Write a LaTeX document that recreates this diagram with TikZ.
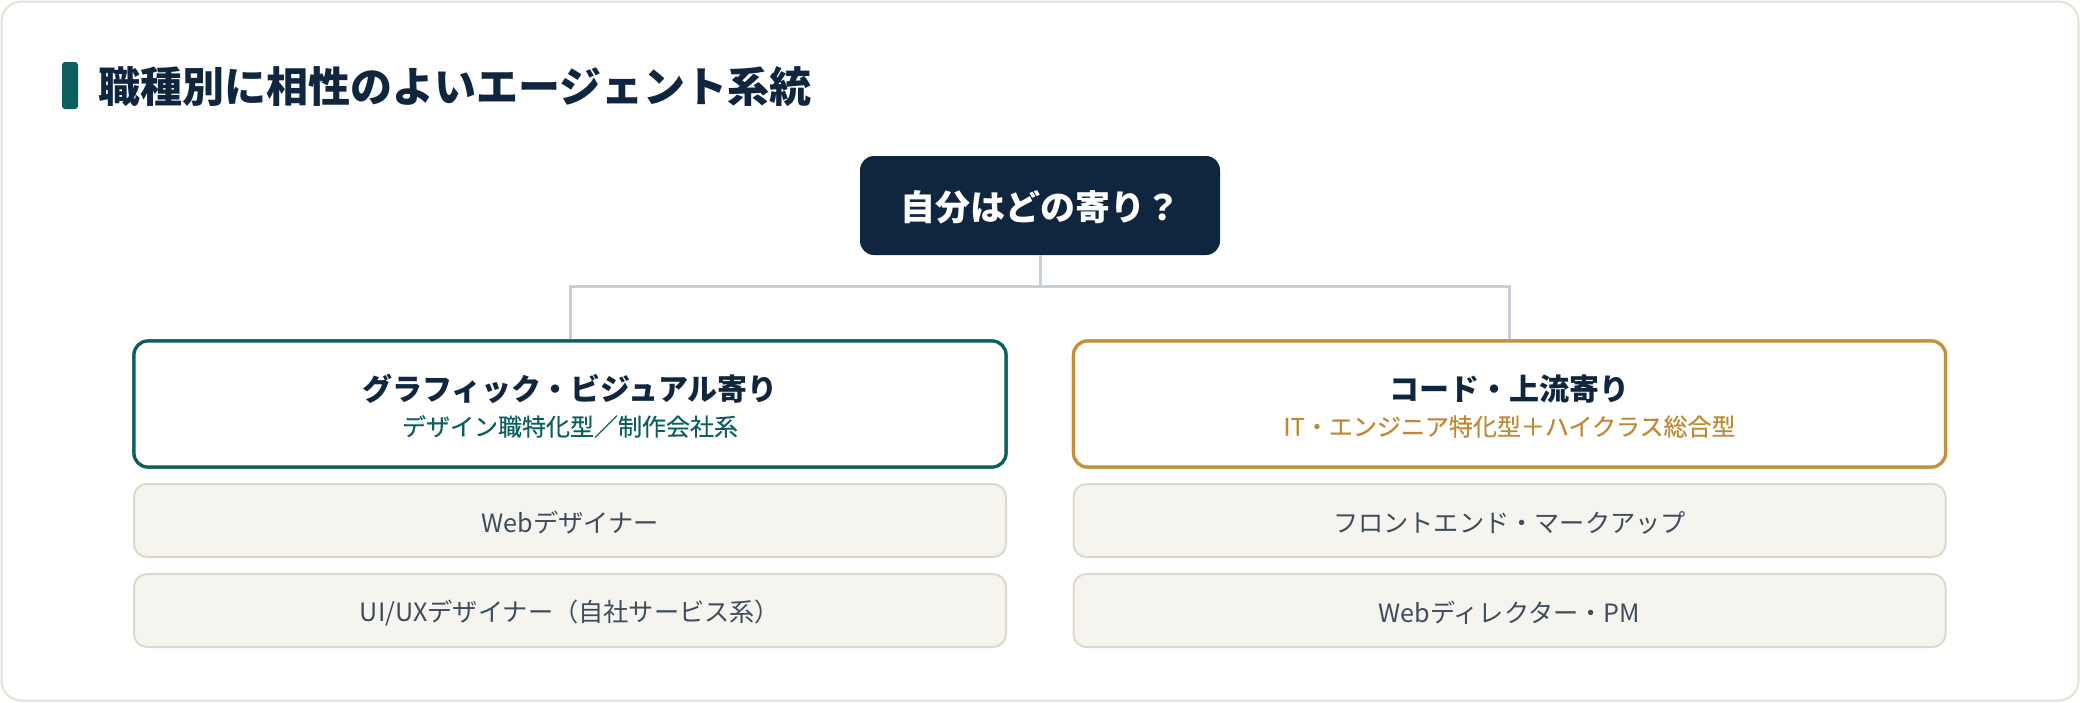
\documentclass[tikz,border=0pt]{standalone}
\usepackage{fontspec}
\setmainfont{Noto Sans CJK JP}
\newfontfamily\medfont[FakeBold=0.3]{Noto Sans CJK JP}
\definecolor{navy}{HTML}{10263F}
\definecolor{teal}{HTML}{0D5F5E}
\definecolor{gold}{HTML}{C4913A}
\definecolor{goldtxt}{HTML}{BC8A35}
\definecolor{itemfill}{HTML}{F6F4EF}
\definecolor{itemline}{HTML}{DDD9CA}
\definecolor{itemtxt}{HTML}{3E4C5C}
\definecolor{outerline}{HTML}{E5E2D5}
\definecolor{connline}{HTML}{C9CFD8}
\tikzset{
  px/.style={x=0.5pt,y=-0.5pt},
  topbox/.style={rectangle, fill=navy, rounded corners=7pt, minimum width=180pt, minimum height=49.5pt, inner sep=0pt},
  headbox/.style={rectangle, draw, fill=white, line width=1.6pt, rounded corners=7pt, minimum width=436pt, minimum height=63pt, inner sep=0pt},
  itembox/.style={rectangle, draw=itemline, fill=itemfill, line width=1pt, rounded corners=6.5pt, minimum width=436pt, minimum height=36.5pt, inner sep=0pt},
  headtitle/.style={text=navy, font=\fontsize{15pt}{18pt}\selectfont\bfseries, inner sep=0pt},
  headsub/.style={font=\fontsize{12pt}{14pt}\selectfont\medfont, inner sep=0pt},
  itemtext/.style={text=itemtxt, font=\fontsize{12.6pt}{15pt}\selectfont, inner sep=0pt},
  conn/.style={draw=connline, line width=1.5pt}
}
\begin{document}
\begin{tikzpicture}[px]
\useasboundingbox (0,0) rectangle (2080,702);
\draw[outerline, line width=1pt, fill=white, rounded corners=10pt] (1.5,1.5) rectangle (2078.5,700.5);
% title
\fill[teal, rounded corners=1.5pt] (62,62) rectangle (78,109);
\node[anchor=west, text=navy, font=\fontsize{21pt}{25pt}\selectfont\bfseries, inner sep=0pt] (title) at (98,87) {職種別に相性のよいエージェント系統};
% top question
\node[topbox] (top) at (1040,205.5) {};
\node[text=white, font=\fontsize{17.5pt}{21pt}\selectfont\bfseries, inner sep=0pt] (toptext) at (1040,207) {自分はどの寄り？};
% headers
\node[headbox, draw=teal] (left) at (570,404) {};
\node[headbox, draw=gold] (right) at (1509.5,404) {};
\coordinate (junc) at (1040,286);
\draw[conn] (top.south) -- (junc);
\draw[conn] (left.north) |- (junc) -| (right.north);
\node[headbox, draw=teal] at (570,404) {};
\node[headbox, draw=gold] at (1509.5,404) {};
\node[headtitle] (lt) at (570,389) {グラフィック・ビジュアル寄り};
\node[headsub, text=teal] (ls) at (570,426.5) {デザイン職特化型／制作会社系};
\node[headtitle] (rt) at (1509.5,389) {コード・上流寄り};
\node[headsub, text=goldtxt] (rs) at (1509.5,426.5) {IT・エンジニア特化型＋ハイクラス総合型};
% items
\node[itembox] (l1) at (570,520.5) {};
\node[itemtext] (l1t) at (570,522.5) {Webデザイナー};
\node[itembox] (l2) at (570,610.5) {};
\node[itemtext] (l2t) at (570,612.5) {UI/UXデザイナー（自社サービス系）};
\node[itembox] (r1) at (1509.5,520.5) {};
\node[itemtext] (r1t) at (1509.5,522.5) {フロントエンド・マークアップ};
\node[itembox] (r2) at (1509.5,610.5) {};
\node[itemtext] (r2t) at (1509.5,612.5) {Webディレクター・PM};
\end{tikzpicture}
\end{document}
